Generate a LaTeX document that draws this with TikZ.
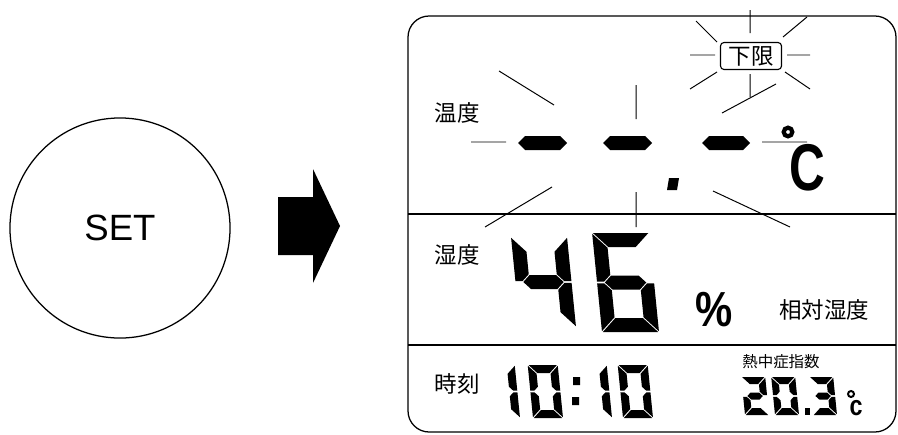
\documentclass[tikz,border=0pt]{standalone}
\usepackage{fontspec}
\setmainfont{Liberation Sans}
\newfontfamily\jpfont{Noto Sans CJK JP}

% flat LCD bar from #1 to #2 at height #3
\newcommand{\dghseg}[3]{(#1,#3) -- ({#1+\dgt/2},{#3+\dgt/2}) -- ({#2-\dgt/2},{#3+\dgt/2}) -- (#2,#3) -- ({#2-\dgt/2},{#3-\dgt/2}) -- ({#1+\dgt/2},{#3-\dgt/2}) -- cycle}
\def\dgg{0.8}
% seven segments, mitred at the corners
\newcommand{\dgsega}{(\dgg,\dgh) -- (\dgw-\dgg,\dgh) -- (\dgw-\dgt-\dgg,\dgh-\dgt) -- (\dgt+\dgg,\dgh-\dgt) -- cycle}
\newcommand{\dgsegd}{(\dgg,0) -- (\dgw-\dgg,0) -- (\dgw-\dgt-\dgg,\dgt) -- (\dgt+\dgg,\dgt) -- cycle}
\newcommand{\dgsegg}{(\dgt/2+\dgg,\dgh/2) -- (\dgt+\dgg,\dgh/2+\dgt/2) -- (\dgw-\dgt-\dgg,\dgh/2+\dgt/2) -- (\dgw-\dgt/2-\dgg,\dgh/2) -- (\dgw-\dgt-\dgg,\dgh/2-\dgt/2) -- (\dgt+\dgg,\dgh/2-\dgt/2) -- cycle}
\newcommand{\dgsegf}{(0,\dgh-\dgg) -- (\dgt,\dgh-\dgt-\dgg) -- (\dgt,\dgh/2+\dgt/2+\dgg) -- (\dgt/2,\dgh/2+\dgg) -- (0,\dgh/2+\dgg) -- cycle}
\newcommand{\dgsege}{(0,\dgg) -- (\dgt,\dgt+\dgg) -- (\dgt,\dgh/2-\dgt/2-\dgg) -- (\dgt/2,\dgh/2-\dgg) -- (0,\dgh/2-\dgg) -- cycle}
\newcommand{\dgsegb}{(\dgw,\dgh-\dgg) -- (\dgw-\dgt,\dgh-\dgt-\dgg) -- (\dgw-\dgt,\dgh/2+\dgt/2+\dgg) -- (\dgw-\dgt/2,\dgh/2+\dgg) -- (\dgw,\dgh/2+\dgg) -- cycle}
\newcommand{\dgsegc}{(\dgw,\dgg) -- (\dgw-\dgt,\dgt+\dgg) -- (\dgw-\dgt,\dgh/2-\dgt/2-\dgg) -- (\dgw-\dgt/2,\dgh/2-\dgg) -- (\dgw,\dgh/2-\dgg) -- cycle}
% digit: bottom left, width, height, thickness, segments
\newcommand{\lcddigit}[5]{%
  \begin{scope}[shift={#1}, yscale=-1, xslant=0.1]
    \def\dgw{#2}\def\dgh{#3}\def\dgt{#4}
    \foreach \sg in {#5}{\expandafter\fill\csname dgseg\sg\endcsname;}
  \end{scope}}

\begin{document}
\begin{tikzpicture}[x=0.025cm, y=-0.025cm,
    frame/.style={line width=0.9pt},
    ray/.style={line width=0.7pt},
    label/.style={font=\jpfont\fontsize{16pt}{16pt}\selectfont, inner sep=0}]
  \useasboundingbox (0,0) rectangle (898,434);

  \node[circle, draw, frame, minimum size=5.5cm, font=\fontsize{26pt}{26pt}\selectfont] (setbtn) at (120,228) {SET};
  \fill (278,197) -- (313,197) -- (313,169) -- (340,226) -- (313,283) -- (313,255) -- (278,255) -- cycle;

  % display frame
  \draw[frame, rounded corners=15pt] (408,16) rectangle (896,432);
  \draw[frame] (408,214) -- (896,214) (408,345) -- (896,345);

  \node[label] (templbl) at (457,113) {温度};
  \node[label] (humlbl) at (457,255) {湿度};
  \node[label] (timelbl) at (457,384) {時刻};
  \node[label] (rhlbl) at (824,310) {相対湿度};
  \node[label, font=\jpfont\fontsize{11pt}{11pt}\selectfont] (wbgtlbl) at (781,362) {熱中症指数};
  \node[label, draw, line width=0.8pt, rounded corners=2.5pt, minimum width=1.525cm, minimum height=0.675cm] (lowlbl) at (751,56) {下限};

  % temperature --.-
  \def\dgt{14}
  \fill \dghseg{518}{567}{143} \dghseg{603}{652}{143} \dghseg{702}{750}{143};
  \fill (669,178) -- (679,178) -- (677,190) -- (667,190) -- cycle;
  \draw[line width=3pt] (788,132) circle[radius=4.3];
  \node[inner sep=0, font=\bfseries\fontsize{47pt}{47pt}\selectfont] (tempunit) at (807,168) {\scalebox{0.75}[1]{C}};

  \draw[ray] (471,142) -- (506,142) (762,142) -- (807,142)
    (499,71) -- (554,105) (636,85) -- (636,119) (722,113) -- (776,84)
    (552,187) -- (485,227) (636,192) -- (636,227) (713,191) -- (790,227);
  \draw[ray] (750,10) -- (750,33) (750,74) -- (750,97)
    (690,55) -- (715,55) (787,55) -- (810,55)
    (696,21) -- (717,42) (783,37) -- (807,17)
    (717,72) -- (690,89) (785,72) -- (810,89);

  % humidity 46%
  \lcddigit{(520,327)}{56}{90}{14}{b,c,f,g}
  \lcddigit{(602,332)}{57}{99}{14}{a,c,d,e,f,g}
  \node[inner sep=0, font=\bfseries\fontsize{35pt}{35pt}\selectfont] (humunit) at (714,310) {\scalebox{0.85}[1]{\%}};

  % time 10:10
  \lcddigit{(490,418)}{30}{53}{8}{b,c}
  \lcddigit{(533,418)}{30}{53}{8}{a,b,c,d,e,f}
  \fill (573,377) rectangle (580,385) (572,397) rectangle (579,405);
  \lcddigit{(582,418)}{30}{53}{8}{b,c}
  \lcddigit{(623,418)}{30}{53}{8}{a,b,c,d,e,f}

  % WBGT 20.3
  \lcddigit{(745,415)}{24}{38}{7}{a,b,g,e,d}
  \lcddigit{(775,415)}{24}{38}{7}{a,b,c,d,e,f}
  \fill (805,408) rectangle (810,415);
  \lcddigit{(813,415)}{24}{38}{7}{a,b,g,c,d}
  \draw[line width=1.4pt] (851,394) circle[radius=3];
  \node[inner sep=0, font=\bfseries\fontsize{20pt}{20pt}\selectfont] (wbgtunit) at (856,408) {\scalebox{0.83}[1]{c}};
\end{tikzpicture}
\end{document}
